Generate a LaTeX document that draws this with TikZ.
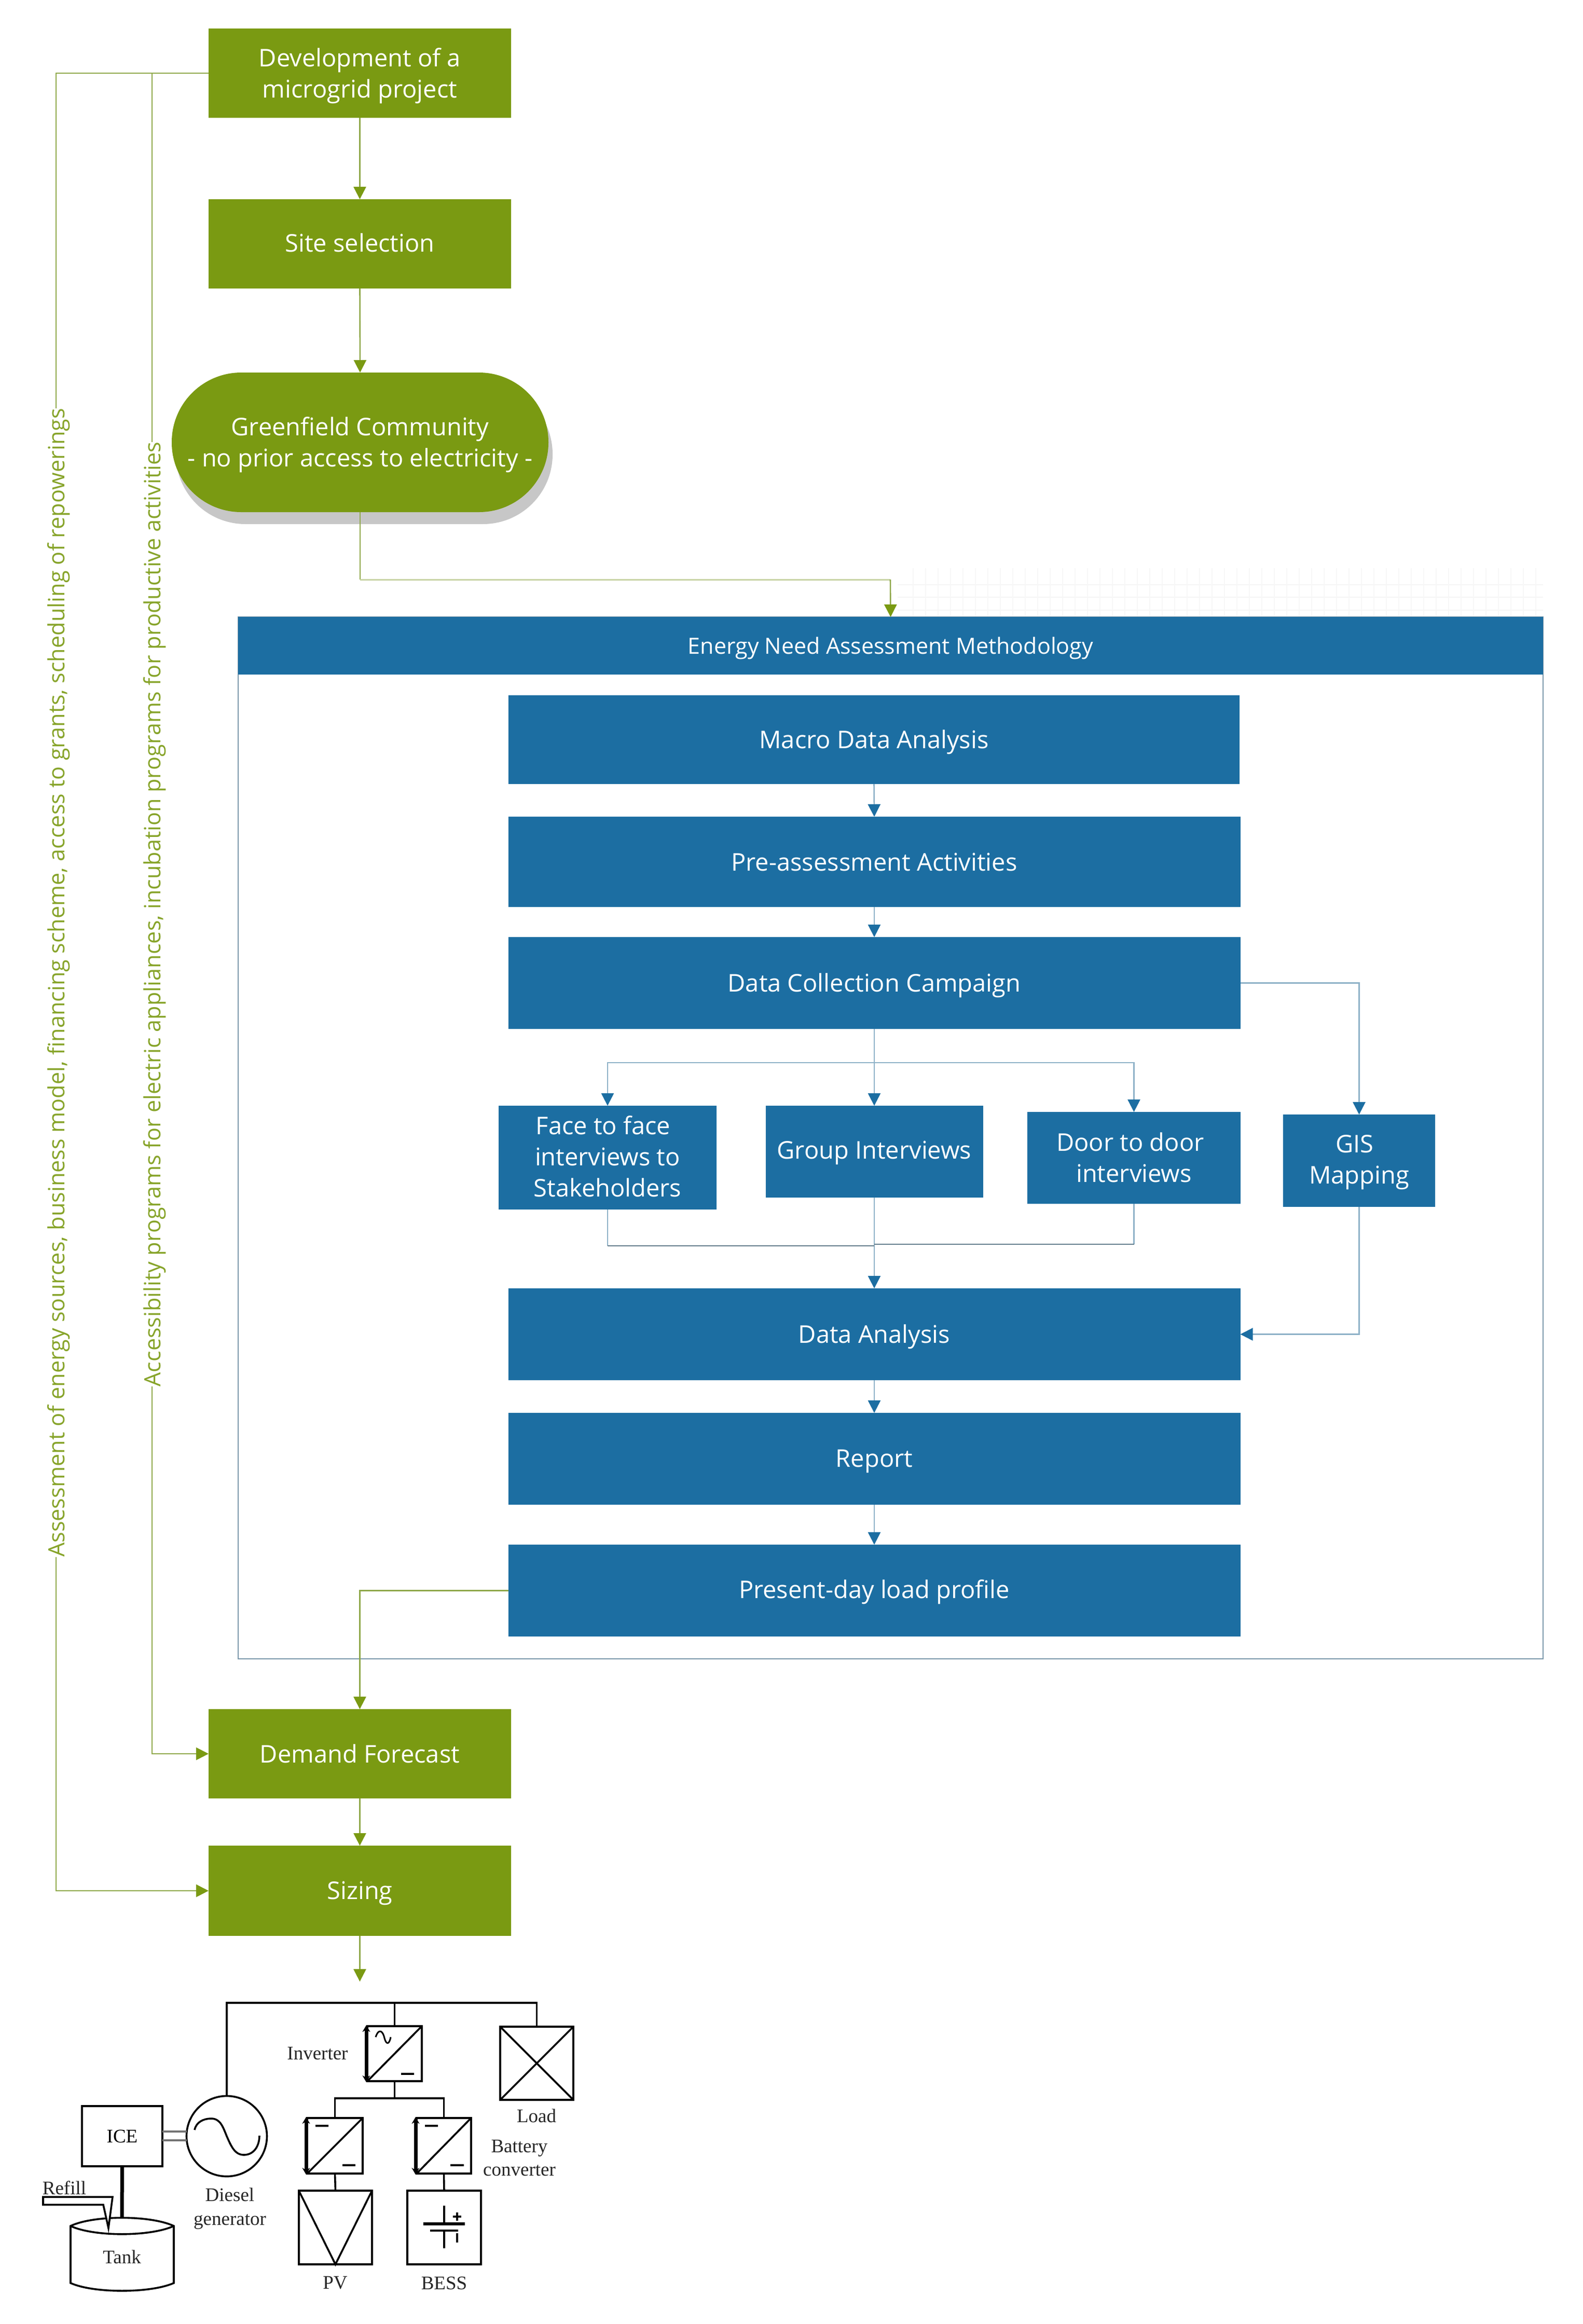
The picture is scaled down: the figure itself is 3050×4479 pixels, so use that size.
\documentclass[tikz,border=0pt]{standalone}
\usepackage{fontspec}
\setmainfont{Open Sans}
\newfontfamily\serifcirc{Liberation Serif}
\usetikzlibrary{arrows.meta,calc}
\definecolor{grn}{HTML}{7A9A12}
\definecolor{grnline}{HTML}{8FA84A}
\definecolor{blu}{HTML}{1C6EA2}
\definecolor{bluline}{HTML}{8FB2C8}
\tikzset{
  x=1pt,y=-1pt,
  greenbox/.style={fill=grn,inner sep=0pt,outer sep=0pt},
  bluebox/.style={fill=blu,inner sep=0pt,outer sep=0pt},
  flowtext/.style={inner sep=0pt,outer sep=0pt,text=white,align=center,font=\fontsize{47}{60}\selectfont},
  gline/.style={draw=grnline,line width=2.6pt},
  garrow/.style={gline,-{Triangle[length=24pt,width=24pt,color=grn]}},
  bline/.style={draw=bluline,line width=2.6pt},
  barrow/.style={bline,-{Triangle[length=24pt,width=24pt,color=blu]}},
  sidelabel/.style={text=grn!90!white,inner sep=0pt,outer sep=0pt,rotate=90,font=\fontsize{43.2}{50}\selectfont},
  circ/.style={draw=black,line width=3.6pt,line join=miter},
  circbox/.style={draw=black,line width=3.6pt,fill=white,inner sep=0pt,outer sep=0pt},
  circtext/.style={inner sep=0pt,font=\serifcirc\fontsize{37}{40}\selectfont,text=black!85},
  thickbar/.style={draw=black,line width=7pt,{Stealth[length=13pt,width=15pt]}-{Stealth[length=13pt,width=15pt]}},
  minusmark/.style={draw=black,line width=4.5pt},
}
% \flowbox{style}{name}{cx}{cy}{w}{h}{text drop}{text}
\newcommand{\flowbox}[8]{%
  \node[#1,minimum width=#5pt,minimum height=#6pt] (#2) at (#3,#4) {};
  \node[flowtext] (#2-t) at ($(#2.center)+(0,#7)$) {#8};
}
\newcommand{\pad}[1]{\rule{#1pt}{0pt}}
\begin{document}
\begin{tikzpicture}
\useasboundingbox (0,0) rectangle (3050,4479);
\fill[white] (0,0) rectangle (3050,4479);
% faint grid above the header
\foreach \gy in {1127,1151,1176} \draw[black!4,line width=2pt] (1730,\gy) -- (2974,\gy);
\foreach \gx in {1760,1784,...,2974} \draw[black!3,line width=1.5pt] (\gx,1095) -- (\gx,1189);
% green flow
\flowbox{greenbox}{dev}{693.5}{141}{583}{172}{5}{Development of a\\microgrid project}
\flowbox{greenbox}{site}{693.5}{470}{583}{172}{-2}{Site selection}
\fill[black!22,rounded corners=134pt] (339,741) rectangle (1065,1010);
\flowbox{greenbox,rounded corners=134pt}{pill}{694}{852.5}{726}{269}{5}{Greenfield Community\\- no prior access to electricity -}
\flowbox{greenbox}{demand}{693.5}{3380}{583}{172}{0}{Demand Forecast}
\flowbox{greenbox}{sizing}{693.5}{3644}{583}{174}{5}{Sizing}
% assessment frame
\node[draw=bluline!85!black,line width=2.2pt,inner sep=0pt,outer sep=0pt,minimum width=2515pt,minimum height=2008pt] (frame) at (1716.5,2193) {};
\node[bluebox,minimum width=2515pt,minimum height=111pt] (hdr) at (1716.5,1244.5) {};
\node[flowtext,font=\fontsize{43}{50}\selectfont] (hdr-t) at (1716.5,1249) {Energy Need Assessment Methodology};
\flowbox{bluebox}{macro}{1684.5}{1425.5}{1409}{171}{5}{Macro Data Analysis}
\flowbox{bluebox}{pre}{1685}{1661}{1411}{174}{0}{Pre-assessment Activities}
\flowbox{bluebox}{dcc}{1685}{1894.5}{1411}{177}{5}{Data Collection Campaign}
\flowbox{bluebox}{face}{1171}{2231}{420}{200}{-2}{Face to face\pad{17}\\interviews to\\Stakeholders}
\flowbox{bluebox}{group}{1685}{2219.5}{419}{177}{2}{Group Interviews}
\flowbox{bluebox}{door}{2185.5}{2231.5}{411}{177}{-1}{Door to door\pad{14}\\interviews}
\flowbox{bluebox}{gis}{2619.5}{2237}{293}{178}{3}{GIS\pad{17}\\Mapping}
\flowbox{bluebox}{da}{1685}{2571.5}{1411}{177}{5}{Data Analysis}
\flowbox{bluebox}{report}{1685}{2811.5}{1411}{177}{5}{Report}
\flowbox{bluebox}{present}{1685}{3065.5}{1411}{177}{3}{Present-day load profile}
% side labels
\node[sidelabel] (lab1) at (113,1894) {Assessment of energy sources, business model, financing scheme, access to grants, scheduling of repowerings};
\node[sidelabel] (lab2) at (298,1762) {Accessibility programs for electric appliances, incubation programs for productive activities};
% coordinates
\coordinate (line1) at (108,0);
\coordinate (line2) at (293,0);
\coordinate (corner) at (1716,1117);
\coordinate (split) at (1685,2048);
\coordinate (mergeL) at (1685,2401);
\coordinate (mergeR) at (1685,2398);
\coordinate (sizeend) at (693.5,3819);
% green connectors
\draw[garrow] (dev.south) -- (site.north);
\draw[garrow] (site.south) -- (pill.north);
\draw[gline] (pill.south) -- (pill.south |- corner);
\draw[draw=grnline!50!white,line width=3pt] (pill.south |- corner) -- (corner);
\draw[garrow] (corner) -- (hdr.north);
\draw[gline] (dev.west) -- (dev.west -| line1) -- (line1 |- lab1.east);
\draw[garrow] (line1 |- lab1.west) |- (sizing.west);
\draw[gline] (dev.west -| line2) -- (line2 |- lab2.east);
\draw[garrow] (line2 |- lab2.west) |- (demand.west);
\draw[garrow] (present.west) -| (demand.north);
\draw[garrow] (demand.south) -- (sizing.north);
\draw[garrow] (sizing.south) -- (sizeend);
% blue connectors
\draw[barrow] (macro.south) -- (pre.north);
\draw[barrow] (pre.south) -- (dcc.north);
\draw[barrow] (dcc.south) -- (group.north);
\draw[barrow] (split) -| (face.north);
\draw[barrow] (split) -| (door.north);
\draw[barrow] (dcc.east) -| (gis.north);
\draw[barrow] (group.south) -- (da.north);
\draw[bline] (face.south) -- (face.south |- mergeL);
\draw[bline] (door.south) -- (door.south |- mergeR);
\draw[draw=bluline!70!black,line width=2.8pt] (face.south |- mergeL) -- (mergeL);
\draw[draw=bluline!70!black,line width=2.8pt] (door.south |- mergeR) -- (mergeR);
\draw[barrow] (gis.south) |- (da.east);
\draw[barrow] (da.south) -- (report.north);
\draw[barrow] (report.south) -- (present.north);
% circuit
\coordinate (busy) at (0,3860);
\coordinate (dcy) at (0,4044);
\node[circbox,minimum width=105pt,minimum height=106pt] (inv) at (760.5,3958) {};
\node[circbox,minimum width=141pt,minimum height=141pt] (load) at (1034.5,3976.5) {};
\node[circbox,minimum width=107pt,minimum height=107pt] (pvc) at (645.5,4135.5) {};
\node[circbox,minimum width=105pt,minimum height=107pt] (batc) at (855.5,4135.5) {};
\node[circbox,minimum width=141pt,minimum height=142pt] (pv) at (646.5,4293) {};
\node[circbox,minimum width=142pt,minimum height=142pt] (bess) at (856,4293) {};
\node[circbox,circle,minimum size=155pt] (gen) at (437,4117) {};
\node[circbox,minimum width=155pt,minimum height=116pt,font=\serifcirc\fontsize{37}{40}\selectfont] (ice) at (235.5,4117) {ICE};
\draw[circ] (gen.north) |- (load.north |- busy) -- (load.north);
\draw[circ] (inv.north) -- (inv.north |- busy);
\draw[circ] (inv.south) -- (inv.south |- dcy);
\draw[circ] (pvc.north) |- (batc.north |- dcy) -- (batc.north);
\draw[circ] (pvc.south) -- (pv.north);
\draw[circ] (batc.south) -- (bess.north);
\draw[circ] (load.north west) -- (load.south east);
\draw[circ] (load.north east) -- (load.south west);
\draw[circ] (inv.south west) -- (inv.north east);
\draw[circ] (pvc.south west) -- (pvc.north east);
\draw[circ] (batc.south west) -- (batc.north east);
\draw[circ] (pv.north west) -- (pv.south) -- (pv.north east);
\draw[thickbar] (inv.south west) ++(-2,2) -- ++(0,-110);
\draw[thickbar] (pvc.south west) ++(-2,2) -- ++(0,-111);
\draw[thickbar] (batc.south west) ++(-2,2) -- ++(0,-111);
\draw[circ,line width=3pt] (724,3926) .. controls (730,3908) and (738,3914) .. (741,3928) .. controls (744,3940) and (750,3942) .. (753,3926);
\draw[minusmark] (773,3997) -- (798,3997);
\draw[minusmark] (608,4097) -- (633,4097);
\draw[minusmark] (660,4173) -- (685,4173);
\draw[minusmark] (819,4097) -- (844,4097);
\draw[minusmark] (868,4173) -- (894,4173);
% battery symbol
\draw[circ] (856,4251) -- (856,4286);
\draw[circ,line width=6pt] (816,4286) -- (896,4286);
\draw[circ,line width=4.5pt] (829,4299) -- (883,4299);
\draw[circ] (856,4299) -- (856,4333);
\draw[circ] (873,4272) -- (889,4272) (881,4264) -- (881,4280);
\draw[circ] (881,4304) -- (881,4322);
% generator wave and shaft
\draw[circ] (375,4105) .. controls (378,4090) and (392,4083) .. (407,4083) .. controls (425,4083) and (430,4100) .. (437,4117) .. controls (445,4135) and (452,4153) .. (470,4153) .. controls (490,4153) and (500,4135) .. (500,4116);
\draw[draw=black!55,line width=3.6pt] (ice.east |- 0,4108) -- (gen.west |- 0,4108);
\draw[draw=black!55,line width=3.6pt] (ice.east |- 0,4125) -- (gen.west |- 0,4125);
% tank
\coordinate (tanktop) at (235,4274);
\draw[circ,fill=white] (136,4290) .. controls (180,4269) and (290,4269) .. (335,4290) -- (335,4400) .. controls (290,4420) and (180,4420) .. (136,4400) -- cycle;
\draw[circ] (136,4290) .. controls (180,4311) and (290,4311) .. (335,4290);
\draw[draw=black,line width=7pt] (ice.south) -- (tanktop);
\draw[circ,fill=white,line join=miter] (83,4234) -- (217,4234) -- (209,4294) -- (199,4249) -- (83,4249) -- cycle;
% circuit labels
\node[circtext] (tRefill) at (124,4217) {Refill};
\node[circtext] (tInv) at (612,3958) {Inverter};
\node[circtext] (tLoad) at (1034,4078) {Load};
\node[circtext,align=center,font=\serifcirc\fontsize{37}{45}\selectfont] (tBat) at (1001,4159) {Battery\\converter};
\node[circtext,align=center,font=\serifcirc\fontsize{37}{46}\selectfont] (tDsl) at (443,4257) {Diesel\\generator};
\node[circtext] (tTank) at (235,4350) {Tank};
\node[circtext] (tPV) at (646,4400) {PV};
\node[circtext] (tBESS) at (856,4400) {BESS};
\end{tikzpicture}
\end{document}
